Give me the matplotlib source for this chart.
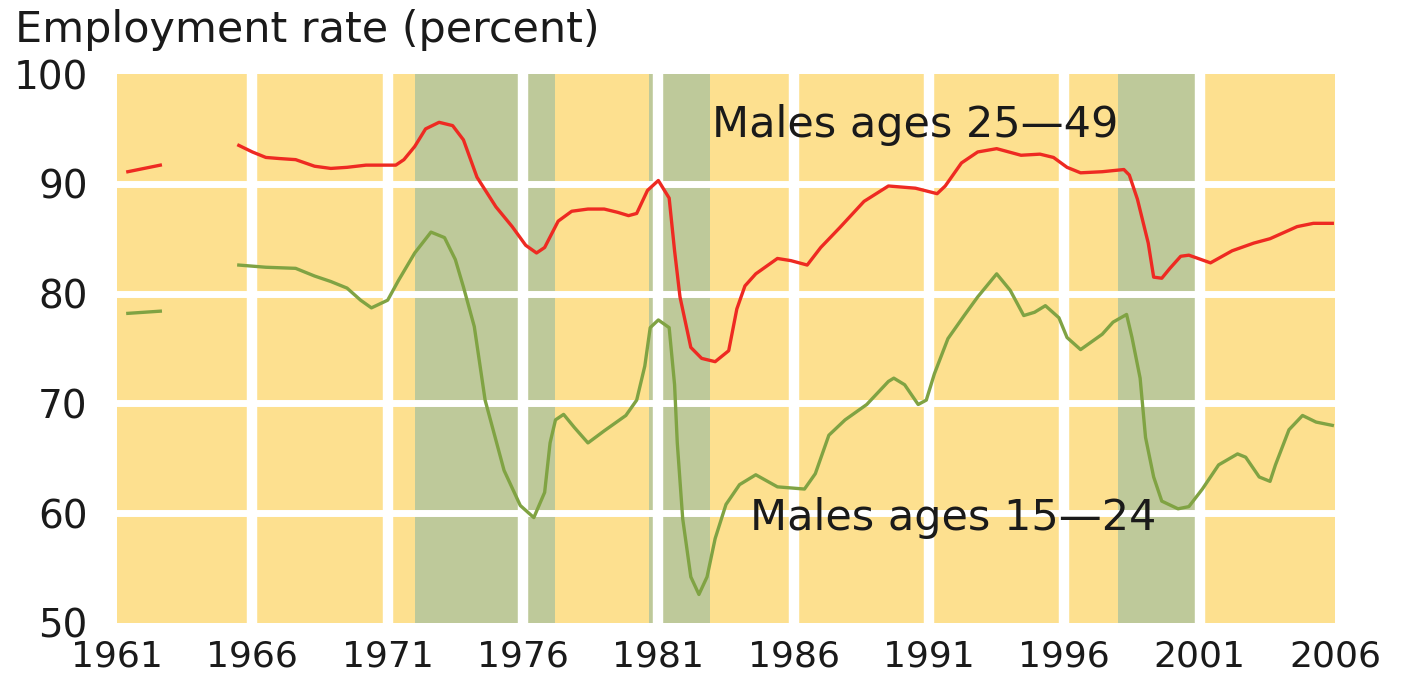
import numpy as np
import matplotlib.pyplot as plt

# Employment rate of males, percent
red_early_years = [1961.4, 1962.0, 1962.6]
red_early = [91.1, 91.4, 91.7]
red_years = [1965.5, 1966.0, 1966.5, 1967.0, 1967.6, 1968.3, 1968.9, 1969.5, 1970.2, 1970.9,
             1971.3, 1971.6, 1972.0, 1972.4, 1972.9, 1973.4, 1973.8, 1974.3, 1975.0, 1975.6,
             1976.1, 1976.5, 1976.8, 1977.3, 1977.8, 1978.4, 1979.0, 1979.5, 1979.9, 1980.2,
             1980.6, 1981.0, 1981.4, 1981.6, 1981.8, 1982.2, 1982.6, 1983.1, 1983.6, 1983.9,
             1984.2, 1984.6, 1985.4, 1985.9, 1986.5, 1987.0, 1987.7, 1988.6, 1989.5, 1990.5,
             1991.3, 1991.6, 1992.2, 1992.8, 1993.5, 1994.4, 1995.1, 1995.6, 1996.1, 1996.6,
             1997.4, 1998.2, 1998.4, 1998.7, 1999.1, 1999.3, 1999.6, 1999.9, 2000.3, 2000.6,
             2001.4, 2002.2, 2003.0, 2003.6, 2004.6, 2005.2, 2005.9]
red_vals = [93.5, 92.9, 92.4, 92.3, 92.2, 91.6, 91.4, 91.5, 91.7, 91.7,
            91.7, 92.2, 93.4, 95.0, 95.6, 95.3, 94.0, 90.6, 87.9, 86.1,
            84.4, 83.7, 84.2, 86.6, 87.5, 87.7, 87.7, 87.4, 87.1, 87.3,
            89.4, 90.3, 88.7, 83.9, 79.7, 75.1, 74.1, 73.8, 74.8, 78.6,
            80.7, 81.8, 83.2, 83.0, 82.6, 84.2, 86.0, 88.4, 89.8, 89.6,
            89.1, 89.8, 91.9, 92.9, 93.2, 92.6, 92.7, 92.4, 91.5, 91.0,
            91.1, 91.3, 90.8, 88.6, 84.6, 81.5, 81.4, 82.3, 83.4, 83.5,
            82.8, 83.9, 84.6, 85.0, 86.1, 86.4, 86.4]

green_early_years = [1961.4, 1962.0, 1962.6]
green_early = [78.2, 78.3, 78.4]
green_years = [1965.5, 1966.5, 1967.6, 1968.3, 1968.9, 1969.5, 1970.0, 1970.4, 1971.0, 1971.4,
               1972.0, 1972.6, 1973.1, 1973.5, 1973.8, 1974.2, 1974.6, 1975.3, 1975.9, 1976.4,
               1976.8, 1977.0, 1977.2, 1977.5, 1977.9, 1978.4, 1979.0, 1979.8, 1980.2, 1980.5,
               1980.7, 1981.0, 1981.4, 1981.6, 1981.7, 1981.9, 1982.2, 1982.5, 1982.8, 1983.1,
               1983.5, 1984.0, 1984.6, 1985.4, 1986.4, 1986.8, 1987.3, 1987.9, 1988.7, 1989.5,
               1989.7, 1990.1, 1990.6, 1990.9, 1991.2, 1991.7, 1992.3, 1992.8, 1993.5, 1994.0,
               1994.5, 1994.9, 1995.3, 1995.8, 1996.1, 1996.6, 1997.4, 1997.8, 1998.3, 1998.5,
               1998.8, 1999.0, 1999.3, 1999.6, 2000.2, 2000.6, 2001.1, 2001.7, 2002.4, 2002.7,
               2003.2, 2003.6, 2003.8, 2004.3, 2004.8, 2005.3, 2005.9]
green_vals = [82.6, 82.4, 82.3, 81.6, 81.1, 80.5, 79.4, 78.7, 79.4, 81.2,
              83.7, 85.6, 85.1, 83.1, 80.6, 77.0, 70.3, 63.9, 60.7, 59.6,
              61.9, 66.4, 68.5, 69.0, 67.8, 66.4, 67.5, 68.9, 70.3, 73.4,
              76.9, 77.6, 76.9, 71.7, 66.4, 59.5, 54.2, 52.6, 54.2, 57.7,
              60.8, 62.6, 63.5, 62.4, 62.2, 63.6, 67.1, 68.5, 69.9, 72.0,
              72.3, 71.7, 69.9, 70.3, 72.7, 75.9, 78.0, 79.7, 81.8, 80.3,
              78.0, 78.3, 78.9, 77.8, 76.0, 74.9, 76.3, 77.4, 78.1, 76.0,
              72.3, 66.9, 63.3, 61.1, 60.4, 60.6, 62.2, 64.4, 65.4, 65.1,
              63.3, 62.9, 64.4, 67.6, 68.9, 68.3, 68.0]

recessions = [(1972.0, 1977.2), (1980.65, 1982.9), (1998.0, 2001.0)]
x_ticks = [1961, 1966, 1971, 1976, 1981, 1986, 1991, 1996, 2001, 2006]
y_ticks = [50, 60, 70, 80, 90, 100]

yellow = '#FDE08F'
band = '#BEC99A'
red = '#EE2A22'
olive = '#80A343'
ink = '#1a1a1a'

fig = plt.figure(figsize=(14.07, 6.8), dpi=100)
ax = fig.add_axes([117 / 1407, 1 - 623 / 680, 1218 / 1407, 549 / 680])
ax.set_facecolor(yellow)

for a, b in recessions:
    ax.axvspan(a, b, color=band, lw=0, zorder=1)

# thick white grid, drawn over the bands
for x in x_ticks[1:-1]:
    ax.axvline(x, color='white', lw=7.5, zorder=2)
for y in y_ticks[1:-1]:
    ax.axhline(y, color='white', lw=5, zorder=2)

ax.plot(red_early_years, red_early, color=red, lw=2.4, zorder=3)
ax.plot(red_years, red_vals, color=red, lw=2.4, zorder=3)
ax.plot(green_early_years, green_early, color=olive, lw=2.4, zorder=3)
ax.plot(green_years, green_vals, color=olive, lw=2.4, zorder=3)

ax.set_xlim(1961, 2006)
ax.set_ylim(50, 100)
ax.set_xticks(x_ticks)
ax.set_xticklabels([str(t) for t in x_ticks])
ax.set_yticks(y_ticks)
ax.tick_params(length=0, colors=ink)
ax.tick_params(axis='y', pad=21, labelsize=28)
ax.tick_params(axis='x', pad=12, labelsize=26)
for s in ax.spines.values():
    s.set_visible(False)

ax.text(1983.0, 95.4, 'Males ages 25\u201449', fontsize=31, color=ink, va='center', ha='left', zorder=4)
ax.text(1984.4, 59.6, 'Males ages 15\u201424', fontsize=31, color=ink, va='center', ha='left', zorder=4)

fig.text(15 / 1407, 1 - 42 / 680, 'Employment rate (percent)', fontsize=31, color=ink, va='baseline', ha='left')

fig.savefig('out.png', dpi=100)
